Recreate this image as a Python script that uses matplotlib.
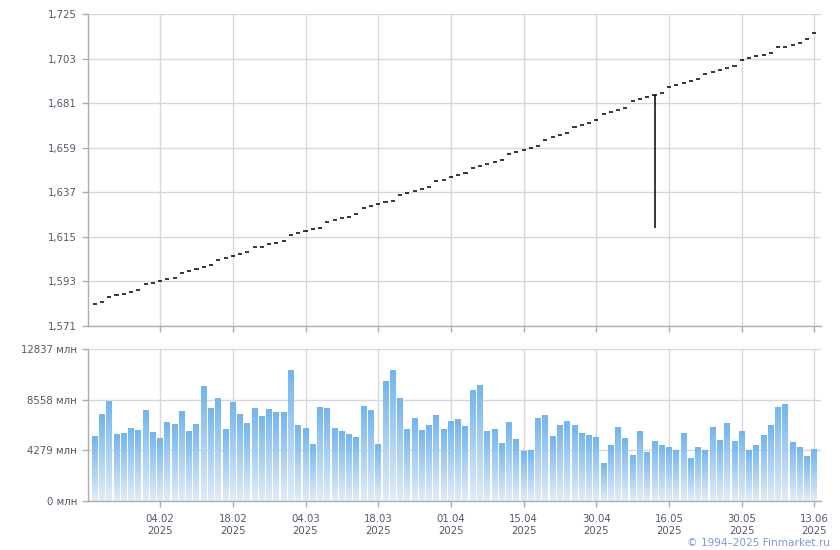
#!/usr/bin/env python3
"""
Daily price ticks with volume bars (Finmarket-style chart)
"""
import numpy as np
import matplotlib
matplotlib.use('Agg')
import matplotlib.pyplot as plt
from matplotlib.colors import LinearSegmentedColormap

# Price per trading day (index 0 = 22.01.2025)
close = [
    1.5819, 1.5828, 1.5853, 1.5863, 1.5868, 1.5879, 1.5889, 1.5916, 1.5922, 1.5932,
    1.5940, 1.5948, 1.5970, 1.5981, 1.5990, 1.5999, 1.6011, 1.6036, 1.6048, 1.6054,
    1.6065, 1.6074, 1.6098, 1.6101, 1.6113, 1.6121, 1.6131, 1.6159, 1.6168, 1.6177,
    1.6187, 1.6195, 1.6223, 1.6232, 1.6242, 1.6250, 1.6261, 1.6291, 1.6301, 1.6312,
    1.6321, 1.6329, 1.6355, 1.6366, 1.6375, 1.6385, 1.6395, 1.6424, 1.6431, 1.6444,
    1.6455, 1.6464, 1.6490, 1.6498, 1.6510, 1.6518, 1.6528, 1.6557, 1.6567, 1.6577,
    1.6587, 1.6597, 1.6628, 1.6641, 1.6651, 1.6661, 1.6691, 1.6702, 1.6711, 1.6725,
    1.6756, 1.6765, 1.6775, 1.6785, 1.6819, 1.6829, 1.6839, 1.6850, 1.6859, 1.6888,
    1.6898, 1.6908, 1.6918, 1.6929, 1.6952, 1.6962, 1.6972, 1.6982, 1.6992, 1.7021,
    1.7031, 1.7041, 1.7049, 1.7056, 1.7086, 1.7086, 1.7095, 1.7105, 1.7125, 1.7155,
]

# Intraday low spike
spike_idx = 77
spike_low = 1.6195

# Volume, млн
volume = [
    5417, 7279, 8379, 5586, 5671, 6094, 5925, 7617, 5755, 5248,
    6602, 6432, 7533, 5840, 6432, 9649, 7787, 8633, 6009, 8295,
    7279, 6517, 7787, 7110, 7702, 7448, 7476, 11003, 6348, 6094,
    4740, 7871, 7787, 6094, 5840, 5586, 5332, 7956, 7617, 4740,
    10072, 11003, 8633, 6009, 6940, 5925, 6348, 7194, 6009, 6686,
    6856, 6263, 9310, 9733, 5840, 6009, 4824, 6602, 5163, 4147,
    4232, 6940, 7194, 5417, 6348, 6686, 6348, 5671, 5502, 5332,
    3132, 4655, 6179, 5248, 3809, 5840, 4063, 4994, 4655, 4486,
    4232, 5671, 3555, 4486, 4232, 6179, 5078, 6517, 4994, 5840,
    4232, 4655, 5502, 6348, 7871, 8126, 4909, 4486, 3724, 4317,
]

tick_idx = [9, 19, 29, 39, 49, 59, 69, 79, 89, 99]
tick_dates = ['04.02', '18.02', '04.03', '18.03', '01.04',
              '15.04', '30.04', '16.05', '30.05', '13.06']
tick_year = '2025'

price_ticks = [1.571, 1.593, 1.615, 1.637, 1.659, 1.681, 1.703, 1.725]
price_labels = ['1,571', '1,593', '1,615', '1,637', '1,659', '1,681', '1,703', '1,725']
vol_ticks = [0, 4279, 8558, 12837]
vol_labels = ['0 млн', '4279 млн', '8558 млн', '12837 млн']

grid_c = '#d3d8de'
spine_c = '#a9aeb6'
text_c = '#4e596a'
fs = 7.3

x = np.arange(len(close))
xlim = (-0.92, 99.9)

fig = plt.figure(figsize=(8.4, 5.5), dpi=100)
ax1 = fig.add_axes([88 / 840, 1 - 326 / 550, 733 / 840, 312 / 550])
ax2 = fig.add_axes([88 / 840, 1 - 501 / 550, 733 / 840, 152 / 550])

for ax in (ax1, ax2):
    for s in ('top', 'right'):
        ax.spines[s].set_visible(False)
    for s in ('left', 'bottom'):
        ax.spines[s].set_color(spine_c)
        ax.spines[s].set_linewidth(1)
    ax.set_xlim(*xlim)
    ax.set_xticks(tick_idx)
    ax.tick_params(axis='both', colors=spine_c, labelcolor=text_c, labelsize=fs,
                   length=4, width=1)
    ax.tick_params(axis='y', pad=4)
    ax.grid(True, color=grid_c, linewidth=1)
    ax.set_axisbelow(True)

# Price ticks (small horizontal dashes)
half = 0.28
ax1.hlines(close, x - half, x + half, color='black', linewidth=1.1, zorder=3)
ax1.vlines(spike_idx, spike_low, close[spike_idx], color='black', linewidth=1.1, zorder=3)
ax1.set_ylim(price_ticks[0], price_ticks[-1])
ax1.set_yticks(price_ticks)
ax1.set_yticklabels(price_labels)
ax1.set_xticklabels([])

# Volume bars with vertical gradient
cmap = LinearSegmentedColormap.from_list('vol', ['#e1ecf8', '#72b5ee'])
grad = np.linspace(0, 1, 128).reshape(-1, 1)
bw = 0.82
for xi, v in zip(x, volume):
    ax2.imshow(grad, cmap=cmap, origin='lower', aspect='auto',
               extent=(xi - bw / 2, xi + bw / 2, 0, v), zorder=2)
ax2.set_xlim(*xlim)
ax2.set_ylim(vol_ticks[0], vol_ticks[-1])
ax2.set_yticks(vol_ticks)
ax2.set_yticklabels(vol_labels)
ax2.set_xticklabels([d + '\n' + tick_year for d in tick_dates], linespacing=1.25)
ax2.tick_params(axis='x', pad=5)

fig.text(0.988, 0.013, '© 1994–2025 Finmarket.ru', color='#7a9bd4',
         fontsize=fs + 0.3, ha='right', va='center')

plt.savefig('out.png', dpi=100)
